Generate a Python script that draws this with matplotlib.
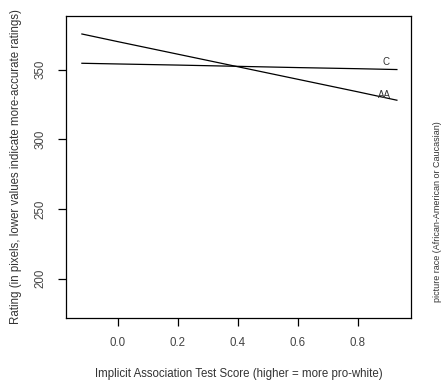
import matplotlib
matplotlib.use("Agg")
import matplotlib.pyplot as plt

plt.rcParams['font.family'] = ['Liberation Sans', 'DejaVu Sans']

# predicted ratings across IAT scores, per picture race
iat = [-0.12, 0.0, 0.2, 0.4, 0.6, 0.8, 0.93]
rating_aa = [375.5, 370.0, 361.0, 352.0, 343.0, 334.0, 328.0]
rating_c = [354.5, 354.0, 353.2, 352.3, 351.4, 350.6, 350.0]
race_labels = ["AA", "C"]

xticks = [0.0, 0.2, 0.4, 0.6, 0.8]
yticks = [200, 250, 300, 350]

fig = plt.figure(figsize=(4.41, 3.81), dpi=100)
ax = fig.add_axes([66 / 441, 1 - 318 / 381, 345 / 441, 302 / 381])

ax.plot(iat, rating_aa, color="black", lw=0.9)
ax.plot(iat, rating_c, color="black", lw=0.9)

ax.text(0.887, 331.7, race_labels[0], fontsize=7, ha="center", va="center",
        color="#333333")
ax.text(0.893, 355.6, race_labels[1], fontsize=7, ha="center", va="center",
        color="#333333")

ax.set_xlim(-0.173, 0.977)
ax.set_ylim(171.8, 388.4)
ax.set_xticks(xticks)
ax.set_xticklabels(["0.0", "0.2", "0.4", "0.6", "0.8"])
ax.set_yticks(yticks)
ax.set_yticklabels([str(v) for v in yticks], rotation=90, va="center")
ax.tick_params(direction="out", length=6, width=0.9, labelsize=8.3, pad=8,
               colors="black", labelcolor="#444444")
for s in ax.spines.values():
    s.set_linewidth(0.9)

ax.set_xlabel("Implicit Association Test Score (higher = more pro-white)",
              fontsize=8.3, labelpad=13, color="#333333")
ax.set_ylabel("Rating (in pixels, lower values indicate more-accurate ratings)",
              fontsize=8.3, labelpad=9, color="#333333")

fig.text(437 / 441, 1 - 212 / 381, "picture race (African-American or Caucasian)",
         rotation=90, fontsize=6.5, ha="center", va="center", color="#333333")

fig.savefig("out.png", dpi=100)
